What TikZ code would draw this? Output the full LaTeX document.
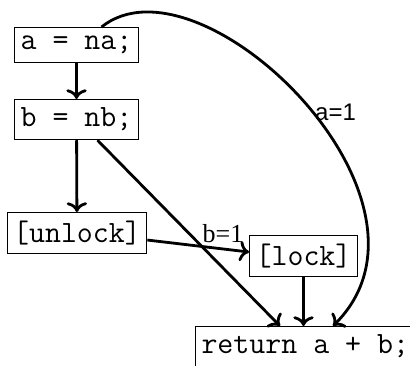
\documentclass[tikz,border=0pt]{standalone}
\usepackage{fontspec}
\newfontfamily\labsans{Liberation Sans}
\newfontfamily\labserif{Liberation Serif}
\usetikzlibrary{calc,arrows.meta}
\begin{document}
\begin{tikzpicture}[x=1pt,y=-1pt,
  code/.style={draw,line width=1pt,font=\fontsize{31}{37}\selectfont\ttfamily,inner xsep=6pt,inner ysep=8.5pt},
  flow/.style={line width=2.8pt,-{To[scale=1.25]}},
  lab/.style={font=\fontsize{26}{30}\selectfont\labserif, inner sep=0pt},
  labsf/.style={font=\fontsize{24}{28}\selectfont\labsans, inner sep=0pt}]
\useasboundingbox (0,0) rectangle (410,366);
\node[code,anchor=north] (A) at (76.5,27) {a = na;};
\node[code,anchor=north] (B) at (76.5,99) {b = nb;};
\node[code,anchor=north] (U) at (77,212) {[unlock]};
\node[code,anchor=north] (L) at (303.5,235) {[lock]};
\node[code,anchor=north west] (R) at (195,326) {return a + b;};
\draw[flow] (A) -- (B);
\draw[flow] (B) -- (U);
\draw[flow] ($(B.south)+(21,0)$) -- ($(R.north west)+(85,0)$);
\draw[flow] ($(U.east)+(0,7)$) -- ($(L.west)+(0,-4)$);
\draw[flow] (L) -- (L|-R.north);
\draw[flow] ($(A.north)+(25,0)$) .. controls (200,-52) and (460,200) .. ($(R.north west)+(138,0)$);
\node[labsf,anchor=west] (la) at (315,112) {a=1};
\node[lab] (lb) at (223,234) {b=1};
\end{tikzpicture}
\end{document}
